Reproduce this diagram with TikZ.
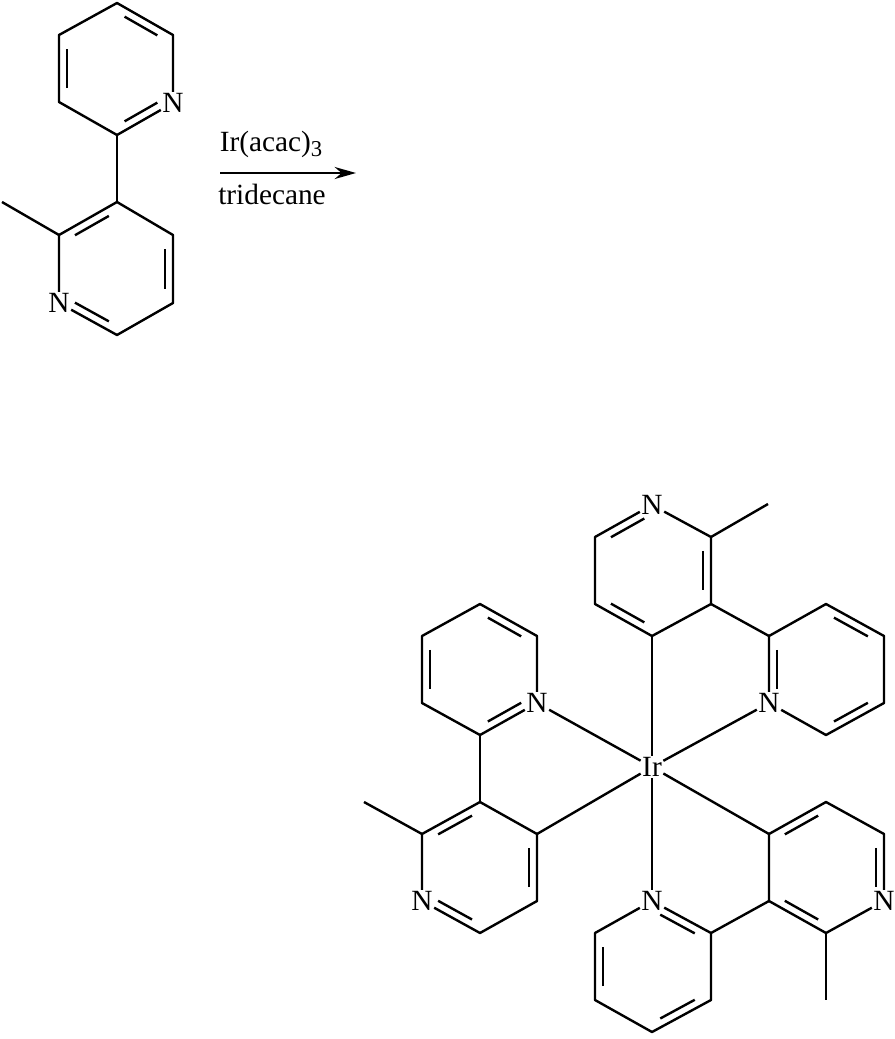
\documentclass[tikz,border=0pt]{standalone}
\usepackage{fontspec}
\setmainfont{Liberation Serif}
\usetikzlibrary{calc,arrows.meta}
\newcommand{\dbl}[3]{\draw[bondline] ($($(#1)!.16!(#2)$)!.14!(#3)$) -- ($($(#1)!.84!(#2)$)!.14!(#3)$);}
\begin{document}
\begin{tikzpicture}[x=0.75pt,y=-0.75pt,
  bondline/.style={line width=1.8pt},
  atom/.style={font=\fontsize{22}{26}\selectfont,inner sep=1pt},
  lbl/.style={font=\fontsize{22}{26}\selectfont,inner sep=1pt}]
\useasboundingbox (0,0) rectangle (895,1039);
% reactant upper ring
\coordinate (a1) at (117,3); \coordinate (a2) at (173,35); \node[atom] (aN) at (173,103) {N};
\coordinate (a3) at (117,135); \coordinate (a4) at (59,102); \coordinate (a5) at (59,35);
\coordinate (ac) at (116,69);
% lower ring
\coordinate (b1) at (117,202); \coordinate (b2) at (173,235); \coordinate (b3) at (173,303);
\coordinate (b4) at (117,335); \node[atom] (bN) at (59,303) {N}; \coordinate (b5) at (59,235);
\coordinate (bme) at (2,202); \coordinate (bc) at (116,269);
\draw[bondline,line join=round] (aN)--(a3)--(a4)--(a5)--(a1)--(a2)--(aN);
\draw[bondline] (a3)--(b1);
\draw[bondline,line join=round] (bN)--(b5)--(b1)--(b2)--(b3)--(b4)--(bN);
\draw[bondline] (b5)--(bme);
\dbl{a1}{a2}{ac} \dbl{a4}{a5}{ac} \dbl{aN}{a3}{ac}
\dbl{b1}{b5}{bc} \dbl{b2}{b3}{bc} \dbl{bN}{b4}{bc}
% arrow
\coordinate (ar1) at (220,173); \coordinate (ar2) at (356,173);
\draw[bondline,-{Stealth[length=16pt,width=9pt]}] (ar1)--(ar2);
\node[lbl] (r1) at (271,144) {Ir(acac)\raisebox{-0.4ex}{\fontsize{17}{20}\selectfont 3}};
\node[lbl] (r2) at (272,194) {tridecane};
% product
\node[atom] (Ir) at (652,767) {Ir};
% top ligand
\node[atom] (tN) at (652,505) {N}; \coordinate (t2) at (711,537); \coordinate (t3) at (711,604);
\coordinate (t4) at (652,636); \coordinate (t5) at (595,604); \coordinate (t6) at (595,537);
\coordinate (tme) at (768,504); \coordinate (tc) at (653,570);
\coordinate (u1) at (769,636); \coordinate (u2) at (826,604); \coordinate (u3) at (884,636);
\coordinate (u4) at (884,703); \coordinate (u5) at (826,735); \node[atom] (uN) at (769,703) {N};
\coordinate (uc) at (826,670);
\draw[bondline,line join=round] (tN)--(t2)--(t3)--(t4)--(t5)--(t6)--(tN);
\draw[bondline] (t2)--(tme); \draw[bondline] (t3)--(u1);
\draw[bondline,line join=round] (uN)--(u1)--(u2)--(u3)--(u4)--(u5)--(uN);
\dbl{tN}{t6}{tc} \dbl{t2}{t3}{tc} \dbl{t4}{t5}{tc}
\dbl{u1}{uN}{uc} \dbl{u2}{u3}{uc} \dbl{u4}{u5}{uc}
% left ligand
\node[atom] (lN) at (537,703) {N}; \coordinate (l1) at (537,636); \coordinate (l2) at (480,604);
\coordinate (l3) at (422,636); \coordinate (l4) at (422,703); \coordinate (l5) at (480,735);
\coordinate (lc) at (480,670);
\coordinate (m3) at (480,802); \coordinate (m2) at (422,834); \node[atom] (mN) at (422,901) {N};
\coordinate (m6) at (480,933); \coordinate (m5) at (537,901); \coordinate (m4) at (537,834);
\coordinate (mme) at (364,802); \coordinate (mc) at (480,868);
\draw[bondline,line join=round] (lN)--(l1)--(l2)--(l3)--(l4)--(l5)--(lN);
\draw[bondline] (l5)--(m3);
\draw[bondline,line join=round] (mN)--(m6)--(m5)--(m4)--(m3)--(m2)--(mN);
\draw[bondline] (m2)--(mme);
\dbl{l2}{l1}{lc} \dbl{l3}{l4}{lc} \dbl{lN}{l5}{lc}
\dbl{m3}{m2}{mc} \dbl{mN}{m6}{mc} \dbl{m5}{m4}{mc}
% bottom ligand
\node[atom] (pN) at (652,901) {N}; \coordinate (p2) at (711,933); \coordinate (p3) at (711,1000);
\coordinate (p4) at (652,1032); \coordinate (p5) at (595,1000); \coordinate (p6) at (595,933);
\coordinate (pc) at (653,967);
\coordinate (q3) at (769,901); \coordinate (q4) at (769,834); \coordinate (q5) at (826,802);
\coordinate (q6) at (884,834); \node[atom] (qN) at (884,901) {N}; \coordinate (q2) at (826,933);
\coordinate (qme) at (826,1000); \coordinate (qc) at (826,868);
\draw[bondline,line join=round] (pN)--(p2)--(p3)--(p4)--(p5)--(p6)--(pN);
\draw[bondline] (p2)--(q3);
\draw[bondline,line join=round] (qN)--(q2)--(q3)--(q4)--(q5)--(q6)--(qN);
\draw[bondline] (q2)--(qme);
\dbl{pN}{p2}{pc} \dbl{p3}{p4}{pc} \dbl{p5}{p6}{pc}
\dbl{q4}{q5}{qc} \dbl{q6}{qN}{qc} \dbl{q3}{q2}{qc}
% Ir bonds
\draw[bondline] (Ir)--(t4); \draw[bondline] (Ir)--(uN); \draw[bondline] (Ir)--(lN);
\draw[bondline] (Ir)--(m4); \draw[bondline] (Ir)--(pN); \draw[bondline] (Ir)--(q4);
\end{tikzpicture}
\end{document}
